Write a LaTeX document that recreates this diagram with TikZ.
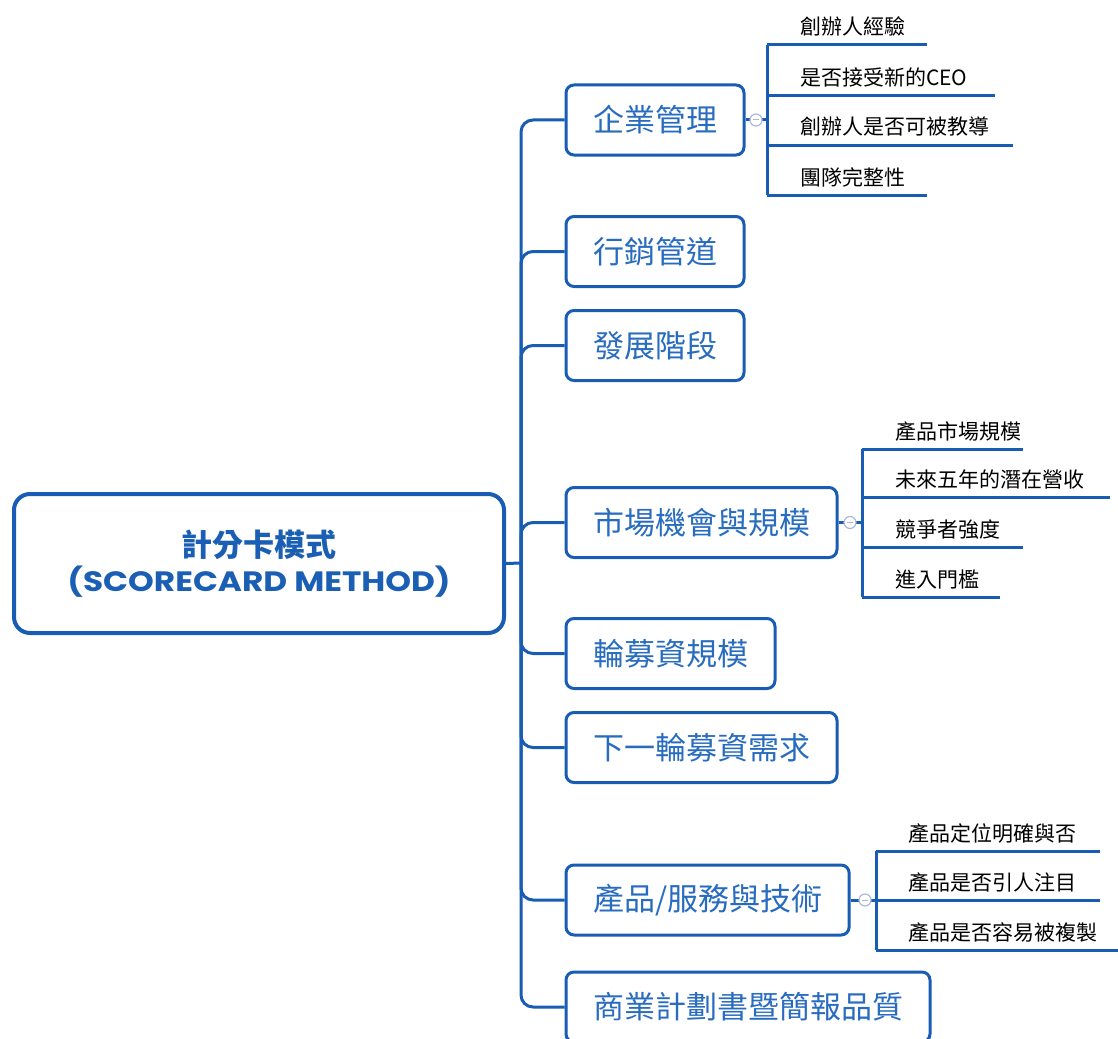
\documentclass[tikz,border=0pt]{standalone}
\usepackage{fontspec}
\setmainfont{Noto Sans CJK TC}
\newfontfamily\popfont{Poppins}
\definecolor{lineblue}{RGB}{24,92,180}
\definecolor{textblue}{RGB}{40,108,192}
\definecolor{rootblue}{RGB}{26,95,180}
\definecolor{knobgray}{RGB}{170,185,215}
\begin{document}
\begin{tikzpicture}[x=1pt,y=-1pt,
  conn/.style={draw=lineblue, line width=3pt},
  branchbox/.style={draw=lineblue, line width=3pt, rounded corners=8pt, minimum height=70pt, inner xsep=27pt, inner ysep=0pt, text=textblue, font=\fontsize{31}{36}\selectfont, anchor=west, fill=white},
  rootbox/.style={draw=lineblue, line width=4pt, rounded corners=16pt, minimum width=490pt, minimum height=139pt, text=rootblue, align=center, fill=white},
  leaf/.style={anchor=base west, inner sep=0pt, text=black, font=\fontsize{21}{24}\selectfont},
  knob/.style={circle, draw=knobgray, line width=1.2pt, fill=white, minimum size=12pt, inner sep=0pt}
]
\useasboundingbox (0,0) rectangle (1118,1038);

% root
\node[rootbox] (root) at (259,563.5) {{\fontsize{31}{40}\selectfont\bfseries 計分卡模式}\\[6pt]{\popfont\bfseries\fontsize{28}{34}\selectfont\scalebox{1.17}[1]{(SCORECARD METHOD)}}};
\coordinate (J) at (521,563);
\draw[conn] (root.east) -- (J);

% branches
\node[branchbox] (b1) at (564.5,120) {企業管理};
\node[branchbox] (b2) at (564.5,251.5) {行銷管道};
\node[branchbox] (b3) at (564.5,345.5) {發展階段};
\node[branchbox] (b4) at (564.5,522.5) {市場機會與規模};
\node[branchbox] (b5) at (564.5,653.5) {輪募資規模};
\node[branchbox] (b6) at (564.5,747.5) {下一輪募資需求};
\node[branchbox] (b7) at (564.5,900) {產品/服務與技術};
\node[branchbox] (b8) at (564.5,1007) {商業計劃書暨簡報品質};

\foreach \b in {b1,b2,b3,b4,b5,b6,b7,b8}{
  \draw[conn, rounded corners=12pt] (J) |- (\b.west);
}

% group 1
\coordinate (g1m) at (767,120);
\coordinate (u11) at (767,45);  \coordinate (e11) at (927,45);
\coordinate (u12) at (767,96);  \coordinate (e12) at (995,96);
\coordinate (u13) at (767,145); \coordinate (e13) at (1013,145);
\coordinate (u14) at (767,195); \coordinate (e14) at (927,195);
\draw[conn] (b1.east) -- (g1m);
\draw[conn] (u11) -- (u14);
\draw[conn] (u11) -- (e11);
\draw[conn] (u12) -- (e12);
\draw[conn] (u13) -- (e13);
\draw[conn] (u14) -- (e14);
\node[leaf] (c11) at (800,35) {創辦人經驗};
\node[leaf] (c12) at (800,86) {是否接受新的CEO};
\node[leaf] (c13) at (800,135) {創辦人是否可被教導};
\node[leaf] (c14) at (800,185) {團隊完整性};
\node[knob] (k1) at (756,120) {};
\draw[knobgray, line width=1pt] ([xshift=-3pt]k1.center) -- ([xshift=3pt]k1.center);

% group 2
\coordinate (g2m) at (862,522.5);
\coordinate (u21) at (862,449); \coordinate (e21) at (1023,449);
\coordinate (u22) at (862,497); \coordinate (e22) at (1110,497);
\coordinate (u23) at (862,547); \coordinate (e23) at (1023,547);
\coordinate (u24) at (862,597); \coordinate (e24) at (1000,597);
\draw[conn] (b4.east) -- (g2m);
\draw[conn] (u21) -- (u24);
\draw[conn] (u21) -- (e21);
\draw[conn] (u22) -- (e22);
\draw[conn] (u23) -- (e23);
\draw[conn] (u24) -- (e24);
\node[leaf] (c21) at (895,439) {產品市場規模};
\node[leaf] (c22) at (895,487) {未來五年的潛在營收};
\node[leaf] (c23) at (895,537) {競爭者強度};
\node[leaf] (c24) at (895,587) {進入門檻};
\node[knob] (k2) at (850,522.5) {};
\draw[knobgray, line width=1pt] ([xshift=-3pt]k2.center) -- ([xshift=3pt]k2.center);

% group 3
\coordinate (g3m) at (876,900);
\coordinate (u31) at (876,851); \coordinate (e31) at (1100,851);
\coordinate (u32) at (876,900); \coordinate (e32) at (1100,900);
\coordinate (u33) at (876,950); \coordinate (e33) at (1118,950);
\draw[conn] (b7.east) -- (g3m);
\draw[conn] (u31) -- (u33);
\draw[conn] (u31) -- (e31);
\draw[conn] (u32) -- (e32);
\draw[conn] (u33) -- (e33);
\node[leaf] (c31) at (908,841) {產品定位明確與否};
\node[leaf] (c32) at (908,890) {產品是否引人注目};
\node[leaf] (c33) at (908,940) {產品是否容易被複製};
\node[knob] (k3) at (865,900) {};
\draw[knobgray, line width=1pt] ([xshift=-3pt]k3.center) -- ([xshift=3pt]k3.center);
\end{tikzpicture}
\end{document}
